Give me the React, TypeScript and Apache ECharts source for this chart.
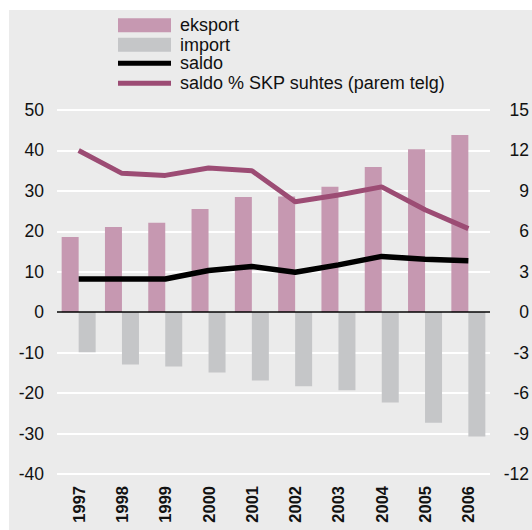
import React, { useEffect, useRef } from "react";
import * as echarts from "echarts";

const years = ["1997", "1998", "1999", "2000", "2001", "2002", "2003", "2004", "2005", "2006"];
const eksport = [18.6, 21.1, 22.1, 25.5, 28.5, 28.6, 31.0, 35.9, 40.3, 43.8];
const importValues = [-9.9, -12.9, -13.4, -14.9, -16.9, -18.3, -19.3, -22.3, -27.3, -30.7];
const saldo = [8.2, 8.2, 8.2, 10.3, 11.3, 9.9, 11.7, 13.8, 13.1, 12.7];
const saldoPct = [12.0, 10.3, 10.15, 10.7, 10.5, 8.2, 8.7, 9.3, 7.6, 6.2];

const FONT = "'Liberation Sans', Arial, Helvetica, sans-serif";
const PINK = "#c698b1";
const GRAY = "#c5c6c8";
const PURPLE = "#9c4c74";
const BG = "#ebebeb";

export default function App() {
  const ref = useRef<HTMLDivElement>(null);
  useEffect(() => {
    if (!ref.current) return;
    const chart = echarts.init(ref.current, undefined, { renderer: "svg" });
    const legendText = {
      fontFamily: FONT,
      fontSize: 18,
      color: "#111",
      lineHeight: 19.5,
      padding: [0, 0, 0, 4],
    };
    chart.setOption({
      animation: false,
      backgroundColor: "#ffffff",
      graphic: [
        {
          type: "rect",
          z: -10,
          silent: true,
          shape: { x: 9, y: 10, width: 523, height: 520 },
          style: { fill: BG },
        },
      ],
      legend: [
        {
          orient: "vertical",
          left: 118,
          top: 15.5,
          padding: 0,
          itemWidth: 53,
          itemHeight: 14,
          itemGap: 0,
          icon: "rect",
          selectedMode: false,
          textStyle: legendText,
          data: ["eksport", "import"],
        },
        {
          orient: "vertical",
          left: 118,
          top: 53.5,
          padding: 0,
          itemWidth: 53,
          itemHeight: 5,
          itemGap: 0.5,
          icon: "rect",
          selectedMode: false,
          textStyle: legendText,
          data: ["saldo", "saldo % SKP suhtes (parem telg)"],
        },
      ],
      grid: { left: 57, right: 40, top: 110, bottom: 56, containLabel: false },
      xAxis: {
        type: "category",
        data: years,
        axisLine: { show: false },
        axisTick: { show: false },
        axisLabel: {
          rotate: 90,
          margin: 12,
          fontFamily: FONT,
          fontSize: 16.5,
          fontWeight: "bold",
          color: "#111",
        },
      },
      yAxis: [
        {
          type: "value",
          min: -40,
          max: 50,
          interval: 10,
          axisLine: { show: false },
          axisTick: { show: false },
          splitLine: { show: true, lineStyle: { color: "#ffffff", width: 2 } },
          axisLabel: { margin: 13, fontFamily: FONT, fontSize: 17.5, color: "#111" },
        },
        {
          type: "value",
          min: -12,
          max: 15,
          interval: 3,
          position: "right",
          axisLine: { show: false },
          axisTick: { show: false },
          splitLine: { show: false },
          axisLabel: { margin: 39, align: "right", fontFamily: FONT, fontSize: 17.5, color: "#111" },
        },
      ],
      series: [
        {
          name: "eksport",
          type: "bar",
          data: eksport,
          barWidth: 17,
          barGap: "0%",
          itemStyle: { color: PINK },
          markLine: {
            silent: true,
            symbol: "none",
            label: { show: false },
            lineStyle: { color: "#000", width: 1.5, type: "solid" },
            data: [{ yAxis: 0 }],
          },
        },
        {
          name: "import",
          type: "bar",
          data: importValues,
          barWidth: 17,
          barGap: "0%",
          itemStyle: { color: GRAY },
        },
        {
          name: "saldo",
          type: "line",
          data: saldo,
          symbol: "none",
          z: 5,
          itemStyle: { color: "#000" },
          lineStyle: { color: "#000", width: 5.5 },
        },
        {
          name: "saldo % SKP suhtes (parem telg)",
          type: "line",
          yAxisIndex: 1,
          data: saldoPct,
          symbol: "none",
          z: 6,
          itemStyle: { color: PURPLE },
          lineStyle: { color: PURPLE, width: 5 },
        },
      ],
    });
    return () => chart.dispose();
  }, []);
  return (
    <div
      ref={ref}
      style={{ position: "fixed", left: 0, top: 0, width: 532, height: 530, background: "#fff" }}
    />
  );
}
